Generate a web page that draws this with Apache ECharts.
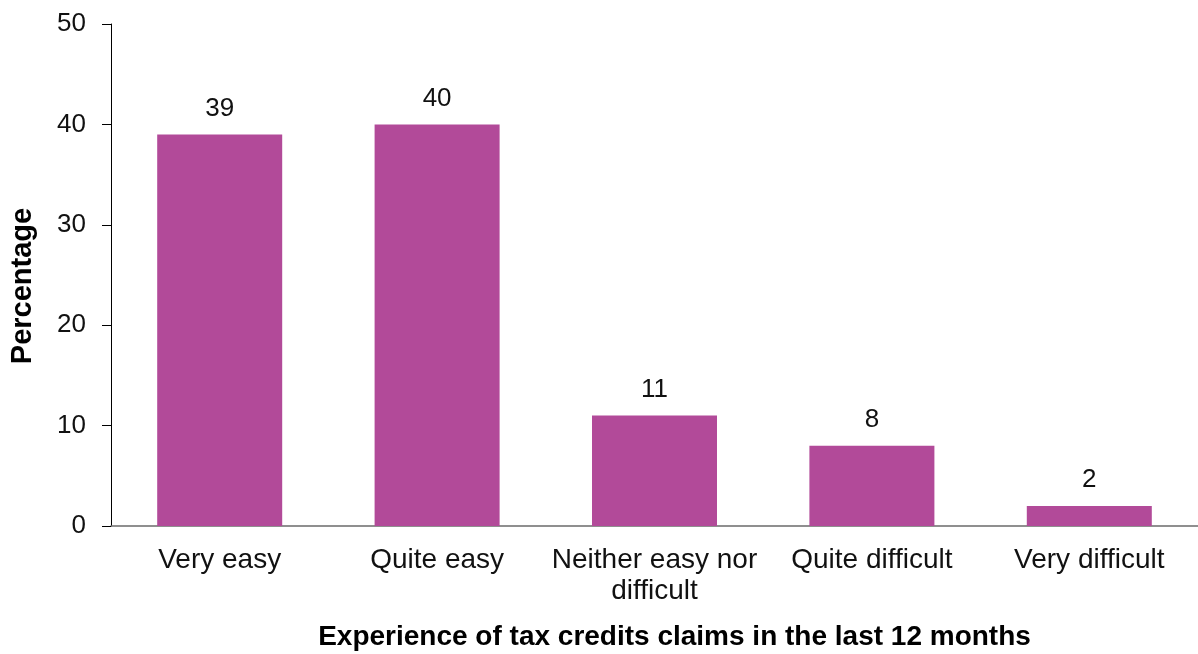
<!DOCTYPE html>
<html>
<head>
<meta charset="utf-8">
<script src="https://cdn.jsdelivr.net/npm/echarts@6/dist/echarts.min.js"></script>
<style>
  html, body { margin: 0; padding: 0; background: #fff; }
  #chart { width: 1198px; height: 654px; }
</style>
</head>
<body>
<div id="chart"></div>
<script>
// Experience of tax credits claims in the last 12 months (%)
const categories = ['Very easy', 'Quite easy', 'Neither easy nor\ndifficult', 'Quite difficult', 'Very difficult'];
const percentages = [39, 40, 11, 8, 2];
const yTicks = { min: 0, max: 50, interval: 10 };

const font = 'Liberation Sans, Arial, sans-serif';
const chart = echarts.init(document.getElementById('chart'), null, { renderer: 'canvas' });

chart.setOption({
  animation: false,
  backgroundColor: '#fff',
  grid: { left: 111, right: 0, top: 24, bottom: 128, containLabel: false, outerBoundsMode: 'none' },
  xAxis: {
    type: 'category',
    data: categories,
    name: 'Experience of tax credits claims in the last 12 months',
    nameLocation: 'middle',
    nameGap: 97,
    nameTextStyle: { fontFamily: font, fontSize: 28, fontWeight: 'bold', color: '#000', padding: [0, 0, 0, 40] },
    axisLine: { lineStyle: { color: '#6b6b6b', width: 1.5 } },
    axisTick: { show: false },
    axisLabel: { fontFamily: font, fontSize: 28, color: '#111', margin: 19, lineHeight: 31, interval: 0 }
  },
  yAxis: {
    type: 'value',
    min: yTicks.min,
    max: yTicks.max,
    interval: yTicks.interval,
    name: 'Percentage',
    nameLocation: 'middle',
    nameGap: 74,
    nameTextStyle: { fontFamily: font, fontSize: 29, fontWeight: 'bold', color: '#000', padding: [0, 22, 0, 0] },
    axisLine: { show: true, lineStyle: { color: '#000', width: 1 } },
    axisTick: { show: true, length: 9, lineStyle: { color: '#000' } },
    axisLabel: { fontFamily: font, fontSize: 26, color: '#111', margin: 25 },
    splitLine: { show: false }
  },
  series: [{
    type: 'bar',
    data: percentages,
    barWidth: '57.5%',
    itemStyle: { color: '#B24A99' },
    label: {
      show: true,
      position: 'top',
      distance: 13,
      fontFamily: font,
      fontSize: 26,
      color: '#111'
    }
  }]
});
</script>
</body>
</html>
